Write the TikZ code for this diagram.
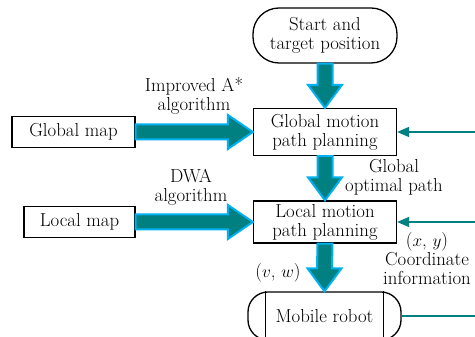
\documentclass[tikz,border=0pt]{standalone}
\usepackage{tikz}
\usetikzlibrary{arrows.meta,calc}
\definecolor{arrowfill}{RGB}{0,128,128}
\definecolor{arrowedge}{RGB}{0,176,240}
\tikzset{>={Triangle[width=10pt,length=12pt]}}
\tikzset{
  box/.style={draw,line width=1.3pt,fill=white,align=center,inner sep=0pt},
  terminal/.style={box,rounded corners=26pt},
  fatarrow/.style={fill=arrowfill,draw=arrowedge,line width=2pt,line join=miter},
  thinarrow/.style={->,draw=arrowfill,line width=1.6pt},
  lbl/.style={align=center,inner sep=0pt}
}
% fat block arrows, shaft half width 7.5, head half width 17, head length 23
\newcommand\fatdown[2]{%
  \draw[fatarrow] ($(#1.south)+(-7.5,0)$) -- ($(#2.north)+(-7.5,23)$) -- ++(-9.5,0)
    -- (#2.north) -- ($(#2.north)+(17,23)$) -- ++(-9.5,0) -- ($(#1.south)+(7.5,0)$) -- cycle;}
\newcommand\fatright[2]{%
  \draw[fatarrow] ($(#1.east)+(0,7.5)$) -- ($(#2.west)+(-25,7.5)$) -- ++(0,9.5)
    -- (#2.west) -- ($(#2.west)+(-25,-17)$) -- ++(0,9.5) -- ($(#1.east)+(0,-7.5)$) -- cycle;}

\begin{document}
\begin{tikzpicture}[x=1pt,y=1pt,font=\fontsize{18.8}{19}\selectfont]

  \useasboundingbox (0,0) rectangle (475,337);
  \clip (0,0) rectangle (475,337);

  \node[terminal,minimum width=144pt,minimum height=55pt] (start) at (325,301.5) {Start and\\target position};
  \node[box,minimum width=143pt,minimum height=47pt] (gmotion) at (325,205) {Global motion\\path planning};
  \node[box,minimum width=143pt,minimum height=42pt] (lmotion) at (325,115) {Local motion\\path planning};
  \node[box,minimum width=123pt,minimum height=31pt] (gmap) at (73.5,205) {Global map};
  \node[box,minimum width=111pt,minimum height=31pt] (lmap) at (79.5,115) {Local map};
  \node[box,rounded corners=20pt,minimum width=153pt,minimum height=48pt] (robot) at (324.5,21) {Mobile robot};
  \draw[line width=1.3pt] ([xshift=18pt]robot.north west) -- ([xshift=18pt]robot.south west);
  \draw[line width=1.3pt] ([xshift=-18pt]robot.north east) -- ([xshift=-18pt]robot.south east);

  \fatdown{start}{gmotion}
  \fatdown{gmotion}{lmotion}
  \fatdown{lmotion}{robot}
  \fatright{gmap}{gmotion}
  \fatright{lmap}{lmotion}

  % feedback from the robot
  \coordinate (fb) at (505,21);
  \draw[thinarrow] (robot.east) -- (fb) |- (gmotion.east);
  \draw[thinarrow] (fb |- lmotion.east) -- (lmotion.east);

  \node[lbl,anchor=south] (algA) at (194,222) {Improved A*\\algorithm};
  \node[lbl,anchor=south] (algD) at (191,131) {DWA\\algorithm};
  \node[lbl] (gpath) at (394,160) {Global\\optimal path};
  \node[lbl] (coord) at (427,78) {($x$, $y$)\\Coordinate\\information};
  \node[lbl] (vw) at (278,64) {($v$, $w$)};
\end{tikzpicture}
\end{document}
